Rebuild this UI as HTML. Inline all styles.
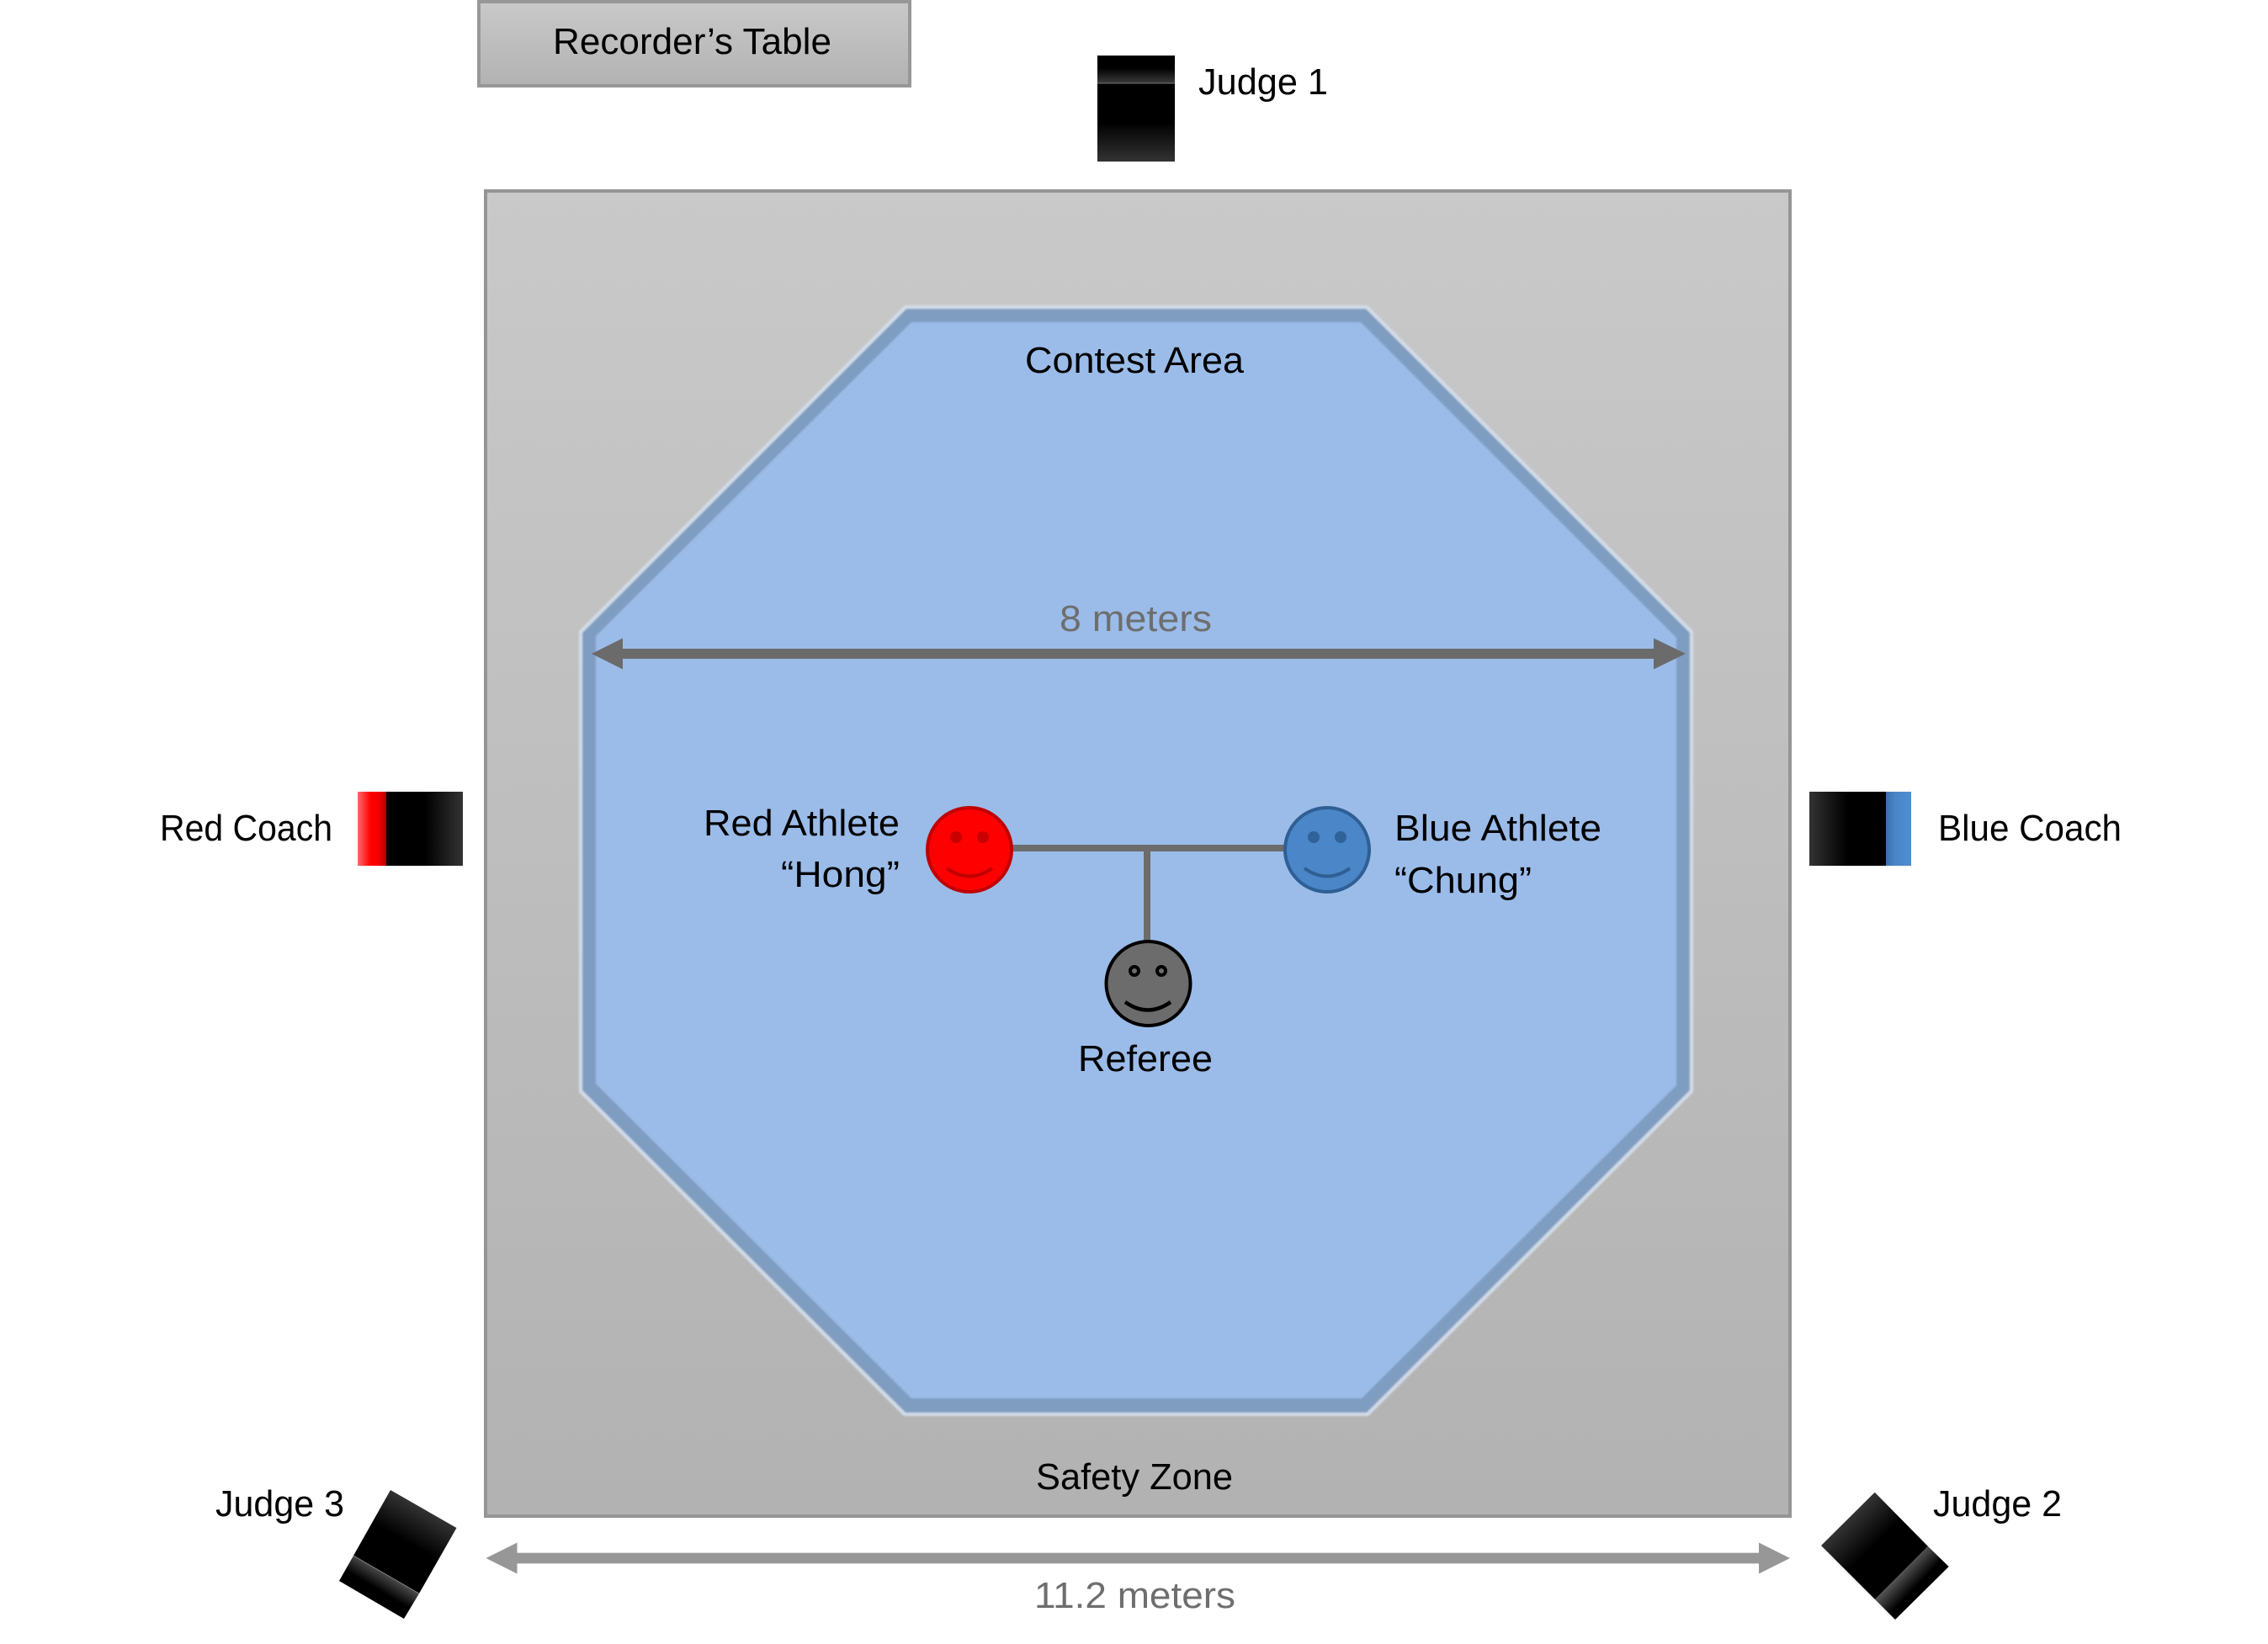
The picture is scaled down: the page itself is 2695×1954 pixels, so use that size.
<!DOCTYPE html>
<html lang="en">
<head>
<meta charset="utf-8">
<title>Contest Area Diagram</title>
<style>
html,body{margin:0;padding:0;background:#fff;width:2695px;height:1954px;overflow:hidden}
svg{display:block}
text{font-family:"Liberation Sans",sans-serif;font-size:44px;fill:#000}
text.g{fill:#6e6e6e}
</style>
</head>
<body>
<svg xmlns="http://www.w3.org/2000/svg" width="2695" height="1954" viewBox="0 0 2695 1954">
<defs>
<filter id="soft" x="-2%" y="-2%" width="104%" height="104%"><feGaussianBlur stdDeviation="1"/></filter>
<linearGradient id="gy" x1="0" y1="0" x2="0" y2="1"><stop offset="0" stop-color="#c9c9c9"/><stop offset="1" stop-color="#b2b2b2"/></linearGradient>
<linearGradient id="j1a" x1="0" y1="0" x2="0" y2="1"><stop offset="0" stop-color="#000"/><stop offset=".45" stop-color="#000"/><stop offset="1" stop-color="#3c3c3c"/></linearGradient>
<linearGradient id="j1b" x1="0" y1="0" x2="0" y2="1"><stop offset="0" stop-color="#000"/><stop offset=".5" stop-color="#000"/><stop offset="1" stop-color="#333"/></linearGradient>
<linearGradient id="rb" x1="0" y1="0" x2="1" y2="0"><stop offset="0" stop-color="#000"/><stop offset=".5" stop-color="#000"/><stop offset="1" stop-color="#333"/></linearGradient>
<linearGradient id="bb" x1="0" y1="0" x2="1" y2="0"><stop offset="0" stop-color="#333"/><stop offset=".5" stop-color="#000"/><stop offset="1" stop-color="#000"/></linearGradient>
<linearGradient id="red" x1="0" y1="0" x2="1" y2="0"><stop offset="0" stop-color="#ff6a6a"/><stop offset=".45" stop-color="#ff0000"/><stop offset=".75" stop-color="#f00000"/><stop offset="1" stop-color="#b00000"/></linearGradient>
<linearGradient id="blu" x1="0" y1="0" x2="1" y2="0"><stop offset="0" stop-color="#3a70b0"/><stop offset=".4" stop-color="#4a86c8"/><stop offset="1" stop-color="#4f8dd2"/></linearGradient>
<linearGradient id="j3a" gradientUnits="userSpaceOnUse" x1="503" y1="1793" x2="459" y2="1871"><stop offset="0" stop-color="#333"/><stop offset=".5" stop-color="#000"/><stop offset="1" stop-color="#000"/></linearGradient>
<linearGradient id="j3b" gradientUnits="userSpaceOnUse" x1="459" y1="1871" x2="441" y2="1901"><stop offset="0" stop-color="#4a4a4a"/><stop offset=".6" stop-color="#000"/><stop offset="1" stop-color="#000"/></linearGradient>
<linearGradient id="j2a" gradientUnits="userSpaceOnUse" x1="2196" y1="1805" x2="2259" y2="1869"><stop offset="0" stop-color="#333"/><stop offset=".5" stop-color="#000"/><stop offset="1" stop-color="#000"/></linearGradient>
<linearGradient id="j2b" gradientUnits="userSpaceOnUse" x1="2260" y1="1870" x2="2284" y2="1893"><stop offset="0" stop-color="#505050"/><stop offset=".7" stop-color="#000"/><stop offset="1" stop-color="#000"/></linearGradient>
</defs>

<!-- Recorder's table -->
<rect x="569" y="2" width="512" height="100" fill="url(#gy)" stroke="#979797" stroke-width="4"/>
<text x="657" y="64" textLength="331" lengthAdjust="spacingAndGlyphs">Recorder’s Table</text>

<!-- Judge 1 -->
<rect x="1304" y="66" width="92" height="33" fill="url(#j1a)"/>
<rect x="1304" y="99" width="92" height="93" fill="url(#j1b)"/>
<rect x="1304" y="98.500" width="92" height="1" fill="#777"/>
<text x="1424" y="112" textLength="154" lengthAdjust="spacingAndGlyphs">Judge 1</text>

<!-- Safety zone -->
<rect x="577" y="227" width="1550" height="1575" fill="url(#gy)" stroke="#959595" stroke-width="4"/>

<!-- Contest area -->
<g filter="url(#soft)">
<polygon points="1075,363 1625,363 2012,750 2012,1298 1626,1683 1074,1683 688,1298 688,750" fill="#d3dde9"/>
<polygon points="1077,367 1623,367 2008,752 2008,1296 1624,1679 1076,1679 692,1296 692,752" fill="#7f9cc1"/>
<polygon points="1083,383 1617,383 1992,758 1992,1290 1618,1662 1083,1662 708,1288 708,756" fill="#9bbce9"/>
</g>

<text x="1218" y="443" textLength="260" lengthAdjust="spacingAndGlyphs">Contest Area</text>
<text class="g" x="1259" y="750" textLength="181" lengthAdjust="spacingAndGlyphs">8 meters</text>

<!-- 8m arrow -->
<polygon points="703,777 740,758.500 740,771 1965,771 1965,758.500 2003,777 1965,795.500 1965,783 740,783 740,795.500" fill="#6b6b6b"/>

<!-- Connectors -->
<rect x="1200" y="1004" width="330" height="8" fill="#6c6c6c"/>
<rect x="1359" y="1012" width="8" height="108" fill="#6c6c6c"/>

<!-- Red face -->
<circle cx="1152" cy="1010" r="50" fill="#ff0000" stroke="#c00000" stroke-width="4"/>
<circle cx="1136" cy="995" r="7" fill="#c80000"/>
<circle cx="1168" cy="995" r="7" fill="#c80000"/>
<path d="M1125,1032 Q1152,1051 1179,1032" fill="none" stroke="#c00000" stroke-width="4"/>

<!-- Blue face -->
<circle cx="1577" cy="1010" r="50" fill="#4a86c8" stroke="#2f5f93" stroke-width="4"/>
<circle cx="1561" cy="995" r="7" fill="#2f6299"/>
<circle cx="1593" cy="995" r="7" fill="#2f6299"/>
<path d="M1550,1032 Q1577,1051 1604,1032" fill="none" stroke="#2f5f93" stroke-width="4"/>

<!-- Referee face -->
<circle cx="1364.500" cy="1169" r="50" fill="#6c6c6c" stroke="#000" stroke-width="4"/>
<circle cx="1348" cy="1154" r="5" fill="#6c6c6c" stroke="#000" stroke-width="4"/>
<circle cx="1380" cy="1154" r="5" fill="#6c6c6c" stroke="#000" stroke-width="4"/>
<path d="M1337,1191 Q1364,1210 1391,1191" fill="none" stroke="#000" stroke-width="4.500"/>

<text x="836" y="993" textLength="233" lengthAdjust="spacingAndGlyphs">Red Athlete</text>
<text x="928" y="1054" textLength="141" lengthAdjust="spacingAndGlyphs">“Hong”</text>
<text x="1657" y="999" textLength="246" lengthAdjust="spacingAndGlyphs">Blue Athlete</text>
<text x="1657" y="1061" textLength="163" lengthAdjust="spacingAndGlyphs">“Chung”</text>
<text x="1281" y="1273" textLength="160" lengthAdjust="spacingAndGlyphs">Referee</text>
<text x="1231" y="1770" textLength="234" lengthAdjust="spacingAndGlyphs">Safety Zone</text>

<!-- Red coach -->
<rect x="425" y="941" width="34" height="88" fill="url(#red)"/>
<rect x="459" y="941" width="91" height="88" fill="url(#rb)"/>
<text x="190" y="999" textLength="205" lengthAdjust="spacingAndGlyphs">Red Coach</text>

<!-- Blue coach -->
<rect x="2150" y="941" width="91" height="88" fill="url(#bb)"/>
<rect x="2241" y="941" width="30" height="88" fill="url(#blu)"/>
<text x="2303" y="999" textLength="218" lengthAdjust="spacingAndGlyphs">Blue Coach</text>

<!-- Judge 3 -->
<polygon points="464,1771 542.500,1816 498,1894 420,1849" fill="url(#j3a)"/>
<polygon points="420,1849 498,1894 480,1924 403,1879" fill="url(#j3b)"/>
<line x1="420" y1="1849" x2="498" y2="1894" stroke="#888" stroke-width="1"/>
<text x="256" y="1802" textLength="153" lengthAdjust="spacingAndGlyphs">Judge 3</text>

<!-- Judge 2 -->
<polygon points="2227.700,1773.700 2291,1838 2228,1901 2164,1837" fill="url(#j2a)"/>
<polygon points="2291,1838 2315.700,1862 2252,1925 2228,1901" fill="url(#j2b)"/>
<text x="2297" y="1802" textLength="153" lengthAdjust="spacingAndGlyphs">Judge 2</text>

<!-- 11.2m arrow -->
<rect x="614" y="1845" width="1477" height="14" fill="#dcdcdc"/>
<polygon points="577.500,1852 614.500,1833.500 614.500,1846 2090,1846 2090,1833.500 2127,1852 2090,1870.500 2090,1858 614.500,1858 614.500,1870.500" fill="#979797"/>
<text class="g" x="1229" y="1911" textLength="239" lengthAdjust="spacingAndGlyphs">11.2 meters</text>
</svg>
</body>
</html>
